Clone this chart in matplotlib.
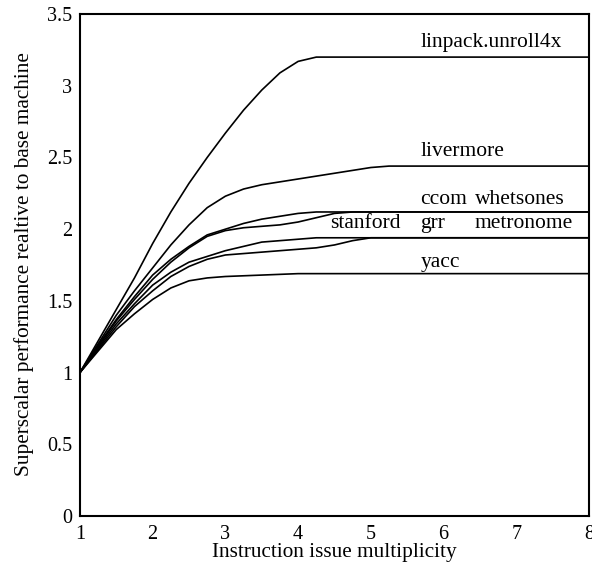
import matplotlib
matplotlib.use("Agg")
import matplotlib.pyplot as plt

plt.rcParams['font.family'] = ['Liberation Serif', 'DejaVu Serif']

x = [1, 1.25, 1.5, 1.75, 2, 2.25, 2.5, 2.75, 3, 3.25, 3.5, 3.75, 4, 4.25, 4.5, 4.75, 5, 5.25, 5.5, 6, 7, 8]

linpack = [1.0, 1.22, 1.44, 1.66, 1.90, 2.12, 2.32, 2.50, 2.67, 2.83, 2.97, 3.09, 3.17, 3.20, 3.20, 3.20, 3.20, 3.20, 3.20, 3.20, 3.20, 3.20]
livermore = [1.0, 1.20, 1.40, 1.57, 1.73, 1.89, 2.03, 2.15, 2.23, 2.28, 2.31, 2.33, 2.35, 2.37, 2.39, 2.41, 2.43, 2.44, 2.44, 2.44, 2.44, 2.44]
ccom = [1.0, 1.19, 1.37, 1.53, 1.68, 1.79, 1.88, 1.96, 2.00, 2.04, 2.07, 2.09, 2.11, 2.12, 2.12, 2.12, 2.12, 2.12, 2.12, 2.12, 2.12, 2.12]
whetsones = [1.0, 1.18, 1.36, 1.51, 1.65, 1.77, 1.87, 1.95, 1.99, 2.01, 2.02, 2.03, 2.05, 2.08, 2.11, 2.12, 2.12, 2.12, 2.12, 2.12, 2.12, 2.12]
grr = [1.0, 1.17, 1.34, 1.48, 1.61, 1.70, 1.77, 1.81, 1.85, 1.88, 1.91, 1.92, 1.93, 1.94, 1.94, 1.94, 1.94, 1.94, 1.94, 1.94, 1.94, 1.94]
metronome = [1.0, 1.16, 1.32, 1.46, 1.57, 1.67, 1.74, 1.79, 1.82, 1.83, 1.84, 1.85, 1.86, 1.87, 1.89, 1.92, 1.94, 1.94, 1.94, 1.94, 1.94, 1.94]
yacc = [1.0, 1.15, 1.30, 1.41, 1.51, 1.59, 1.64, 1.66, 1.67, 1.675, 1.68, 1.685, 1.69, 1.69, 1.69, 1.69, 1.69, 1.69, 1.69, 1.69, 1.69, 1.69]

series = [linpack, livermore, ccom, whetsones, grr, metronome, yacc]

# label text and anchor positions (data coords)
labels = ["linpack.unroll4x", "livermore", "ccom", "whetsones", "stanford", "grr", "metronome", "yacc"]
label_x = [5.68, 5.68, 5.68, 6.43, 4.44, 5.68, 6.43, 5.68]
label_y = [3.30, 2.54, 2.21, 2.21, 2.04, 2.04, 2.04, 1.77]

fig = plt.figure(figsize=(5.92, 5.63), dpi=100)
ax = fig.add_axes([0.135, 0.0835, 0.86, 0.8915])

for s in series:
    ax.plot(x, s, color='black', linewidth=1.2)

for t, lx, ly in zip(labels, label_x, label_y):
    ax.text(lx, ly, t, fontsize=15.5, ha='left', va='center', color='black')

ax.set_xlim(1, 8)
ax.set_ylim(0, 3.5)
ax.set_xticks([1, 2, 3, 4, 5, 6, 7, 8])
ax.set_xticklabels(['1', '2', '3', '4', '5', '6', '7', '8'])
ax.set_yticks([0, 0.5, 1, 1.5, 2, 2.5, 3, 3.5])
ax.set_yticklabels(['0', '0.5', '1', '1.5', '2', '2.5', '3', '3.5'])
ax.tick_params(length=0, labelsize=14.5)
ax.tick_params(axis='x', pad=6.5)
ax.tick_params(axis='y', pad=5.5)
for sp in ax.spines.values():
    sp.set_linewidth(1.5)

ax.set_xlabel("Instruction issue multiplicity", fontsize=15.3)
ax.set_ylabel("Superscalar performance realtive to base machine", fontsize=15.3)
ax.xaxis.set_label_coords(0.5, -0.054)
ax.yaxis.set_label_coords(-0.090, 0.502)

fig.savefig("out.png", dpi=100)
